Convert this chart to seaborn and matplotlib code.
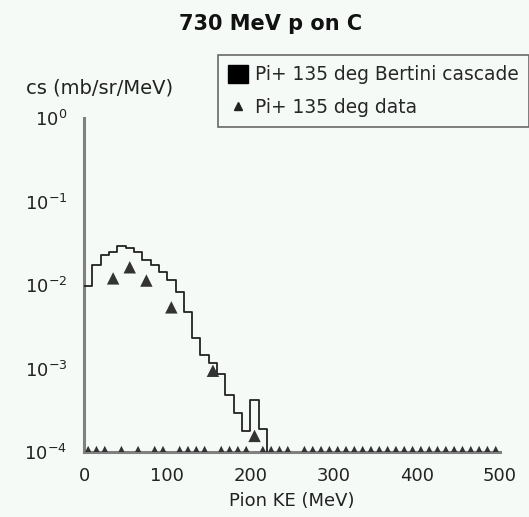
import numpy as np
import pandas as pd
import matplotlib
matplotlib.use("Agg")
import matplotlib.pyplot as plt
import seaborn as sns
from matplotlib.patches import Patch
from matplotlib.lines import Line2D

# ---- data ----
bin_edges = [0, 10, 20, 30, 40, 50, 60, 70, 80, 90, 100, 110, 120, 130, 140,
             150, 160, 170, 180, 190, 200, 210, 220]
cascade_cs = [0.0096, 0.0174, 0.023, 0.025, 0.029, 0.0276, 0.025, 0.020,
              0.0174, 0.0145, 0.0114, 0.0083, 0.0048, 0.0023, 0.00144,
              0.00115, 0.00087, 0.00048, 0.00029, 0.00018, 0.00042, 0.00019]

data_ke = [5, 15, 25, 35, 45, 55, 65, 75, 85, 95, 105, 115, 125, 135, 145,
           155, 165, 175, 185, 195, 205, 215, 225, 235, 245, 265, 275, 285,
           295, 305, 315, 325, 335, 345, 355, 365, 375, 385, 395, 405, 415,
           425, 435, 445, 455, 465, 475, 485, 495]
data_cs = [0, 0, 0, 0.012, 0, 0.0163, 0, 0.0113, 0, 0, 0.0054, 0, 0, 0, 0,
           0.00094, 0, 0, 0, 0, 0.000156, 0, 0, 0, 0, 0, 0, 0,
           0, 0, 0, 0, 0, 0, 0, 0, 0, 0, 0, 0, 0,
           0, 0, 0, 0, 0, 0, 0, 0]

title = "730 MeV p on C"
xlabel = "Pion KE (MeV)"
ylabel = "cs (mb/sr/MeV)"
label_cascade = "Pi+ 135 deg Bertini cascade"
label_data = "Pi+ 135 deg data"

# ---- plot ----
sns.set_style("white")
bg = "#f5faf7"
plt.rcParams["font.family"] = ["DejaVu Sans"]

fig = plt.figure(figsize=(5.29, 5.17), dpi=100, facecolor=bg)
ax = fig.add_axes([0.1588, 0.1257, 0.7862, 0.6461], facecolor=bg)

ymin, ymax = 1e-4, 1.0
centers = [(a + b) / 2 for a, b in zip(bin_edges[:-1], bin_edges[1:])]
hist_df = pd.DataFrame({"ke": centers, "cs": cascade_cs})
sns.histplot(data=hist_df, x="ke", weights="cs", bins=bin_edges,
             element="step", fill=False, color="#222222", linewidth=1.3,
             ax=ax)
# close the outline down to the axis floor at the last edge
ax.vlines(bin_edges[-1], ymin, cascade_cs[-1], color="#222222", linewidth=1.3)

ys = [v if v > 0 else ymin for v in data_cs]
pts = pd.DataFrame({"ke": data_ke, "cs": ys})
sns.scatterplot(data=pts, x="ke", y="cs", marker="^", s=80,
                color="#333333", edgecolor="none", ax=ax, clip_on=True,
                zorder=5)

ax.set_yscale("log")
ax.set_xlim(0, 500)
ax.set_ylim(ymin, ymax)
ax.minorticks_off()
ax.set_xticks([0, 100, 200, 300, 400, 500])
ax.set_yticks([1e-4, 1e-3, 1e-2, 1e-1, 1])

for s in ["top", "right"]:
    ax.spines[s].set_visible(False)
for s in ["left", "bottom"]:
    ax.spines[s].set_color("#808080")
    ax.spines[s].set_linewidth(2.2)
    ax.spines[s].set_zorder(1)

ax.tick_params(axis="both", direction="inout", length=10, width=1.5,
               color="#333333", labelsize=13, labelcolor="#222222", pad=6)
ax.tick_params(axis="y", color="#808080", length=12, width=2)
ax.set_xlabel(xlabel, fontsize=13, color="#222222", labelpad=5)
ax.set_ylabel("")
fig.text(26 / 529, 1 - 88 / 517, ylabel, fontsize=14, color="#222222",
         ha="left", va="center")
fig.text(271 / 529, 1 - 24 / 517, title, fontsize=15, fontweight="bold",
         color="#111111", ha="center", va="center")

handles = [Patch(facecolor="black", edgecolor="black"),
           Line2D([], [], marker="^", linestyle="none", color="#222222",
                  markersize=6)]
leg = fig.legend(handles, [label_cascade, label_data],
                 loc="upper left", bbox_to_anchor=(218 / 529, 1 - 55 / 517),
                 frameon=True, fancybox=False, fontsize=13.4,
                 handlelength=1.05, handleheight=1.05, handletextpad=0.4,
                 borderpad=0.55, labelspacing=0.75, borderaxespad=0)
leg.get_frame().set_edgecolor("#444444")
leg.get_frame().set_linewidth(1.2)
leg.get_frame().set_facecolor(bg)

fig.savefig("out.png", dpi=100, facecolor=bg)
